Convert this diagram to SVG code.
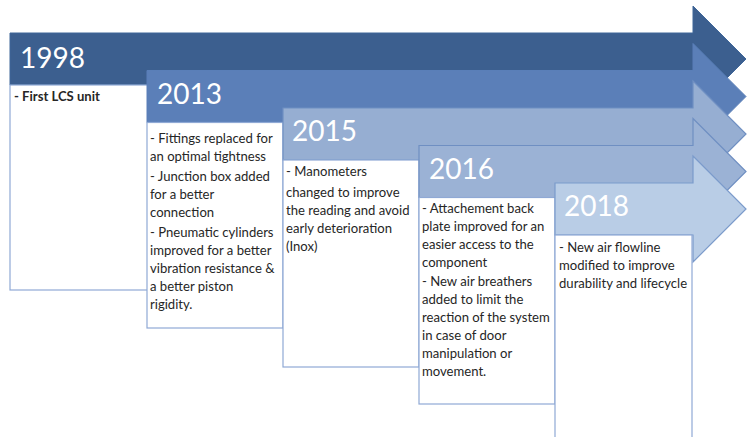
<svg xmlns="http://www.w3.org/2000/svg" width="747" height="437" viewBox="0 0 747 437">
<style>
.yr{font-family:Lato,"Liberation Sans",sans-serif;font-size:28px;fill:#ffffff}
.tx{font-family:Lato,"Liberation Sans",sans-serif;font-size:13.1px;fill:#262626}
.box{fill:#ffffff;stroke:#8fa9d5;stroke-width:1.2}
.a1{fill:#3c5f8f;stroke:#3f6699;stroke-width:1}
.a2{fill:#5b7fb8;stroke:#5a7fb8;stroke-width:1}
.a3{fill:#96aed2;stroke:#6f8fc2;stroke-width:1.2}
.a4{fill:#9bb2d5;stroke:#6f8fc2;stroke-width:1.2}
.a5{fill:#b9cde6;stroke:#7b9bcb;stroke-width:1.2}
</style>
<rect width="747" height="437" fill="#ffffff"/>
<g id="n1998">
<path class="a1" d="M10 33 H693 V6 L746 59 L693 112 V85 H10 Z"/>
<rect class="box" x="10" y="85" width="140" height="205"/>
<text class="yr" x="20" y="68">1998</text>
<text class="tx" x="14" y="101" font-weight="bold">- First LCS unit</text>
</g>
<g id="n2013">
<path class="a2" d="M147 70.5 H693 V43.5 L746 96.5 L693 149.5 V122.5 H147 Z"/>
<rect class="box" x="147" y="122.5" width="136" height="205.5"/>
<text class="yr" x="157" y="104">2013</text>
<text class="tx" x="150" y="143">- Fittings replaced for</text>
<text class="tx" x="150" y="161">an optimal tightness</text>
<text class="tx" x="150" y="181">- Junction box added</text>
<text class="tx" x="150" y="199">for a better</text>
<text class="tx" x="150" y="217">connection</text>
<text class="tx" x="150" y="237">- Pneumatic cylinders</text>
<text class="tx" x="150" y="255">improved for a better</text>
<text class="tx" x="150" y="273">vibration resistance &amp;</text>
<text class="tx" x="150" y="291">a better piston</text>
<text class="tx" x="150" y="309">rigidity.</text>
</g>
<g id="n2015">
<path class="a3" d="M283 108 H693 V81 L746 134 L693 187 V160 H283 Z"/>
<rect class="box" x="283" y="160" width="136" height="207"/>
<text class="yr" x="292" y="141">2015</text>
<text class="tx" x="286" y="176">- Manometers</text>
<text class="tx" x="286" y="197">changed to improve</text>
<text class="tx" x="286" y="215">the reading and avoid</text>
<text class="tx" x="286" y="233">early deterioration</text>
<text class="tx" x="286" y="251">(Inox)</text>
</g>
<g id="n2016">
<path class="a4" d="M419 145.5 H693 V118.5 L746 171.5 L693 224.5 V197.5 H419 Z"/>
<rect class="box" x="419" y="197.5" width="136" height="206.5"/>
<text class="yr" x="429" y="179">2016</text>
<text class="tx" x="422" y="213">- Attachement back</text>
<text class="tx" x="422" y="231">plate improved for an</text>
<text class="tx" x="422" y="249">easier access to the</text>
<text class="tx" x="422" y="267">component</text>
<text class="tx" x="422" y="286">- New air breathers</text>
<text class="tx" x="422" y="304">added to limit the</text>
<text class="tx" x="422" y="322">reaction of the system</text>
<text class="tx" x="422" y="340">in case of door</text>
<text class="tx" x="422" y="358">manipulation or</text>
<text class="tx" x="422" y="376">movement.</text>
</g>
<g id="n2018">
<path class="a5" d="M555 183 H693 V156 L746 209 L693 262 V235 H555 Z"/>
<rect class="box" x="555" y="235" width="137" height="210"/>
<text class="yr" x="564" y="216">2018</text>
<text class="tx" x="559" y="252">- New air flowline</text>
<text class="tx" x="559" y="270">modified to improve</text>
<text class="tx" x="559" y="288">durability and lifecycle</text>
</g>
</svg>
